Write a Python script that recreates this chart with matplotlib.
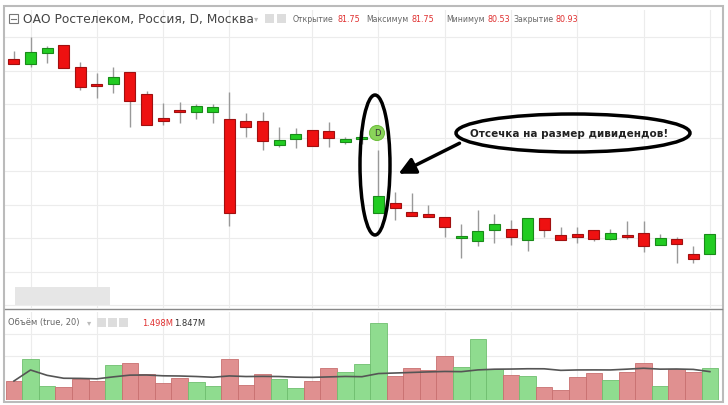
import matplotlib
matplotlib.use("Agg")
import matplotlib.pyplot as plt
import numpy as np
import pandas as pd
from matplotlib.patches import Ellipse, Rectangle, FancyArrowPatch, Circle

# OHLC (arbitrary price units)
opens  = [24.1,23.6,24.7,25.5,23.3,21.6,21.6,22.8,20.6,18.2,19.0,18.8,18.8,18.1,17.9,17.9,15.5,16.1,17.0,16.9,15.8,16.1,8.7,9.7,8.8,8.6,8.3,6.2,5.9,7.0,7.1,6.0,8.2,6.5,6.6,7.0,6.1,6.5,6.7,5.5,6.1,4.6,4.6]
highs  = [24.9,26.3,25.4,25.5,23.8,22.7,23.3,22.8,20.9,19.7,19.8,19.6,19.6,20.8,18.7,18.8,17.3,17.2,17.0,17.8,16.3,16.7,15.0,10.8,10.7,9.5,8.3,7.6,9.0,8.6,8.0,8.2,8.2,7.3,7.3,7.0,7.1,7.9,7.9,6.6,6.3,5.4,6.6]
lows   = [23.6,23.3,23.7,23.2,21.0,20.2,20.7,17.3,17.5,17.5,17.7,18.1,17.7,7.4,16.3,15.0,15.3,15.2,15.4,15.3,15.6,15.6,8.7,8.0,8.4,8.3,6.3,4.2,5.4,5.7,5.5,4.9,6.3,6.0,5.7,5.9,6.0,6.1,4.8,5.5,3.7,3.7,4.6]
closes = [23.6,24.8,25.2,23.2,21.3,21.4,22.3,19.9,17.5,17.9,18.8,19.4,19.3,8.7,17.3,15.9,16.0,16.6,15.4,16.2,16.1,16.2,10.4,9.2,8.4,8.3,7.3,6.4,6.9,7.6,6.3,8.2,7.0,6.0,6.3,6.1,6.7,6.3,5.4,6.2,5.6,4.1,6.6]
volumes = [19,41,14,13,21,19,35,37,26,17,22,18,14,41,15,26,21,12,19,32,28,36,77,24,32,30,44,33,61,31,25,24,13,10,23,27,20,28,37,14,31,28,32]
ma_period = 20
header_labels = ["Открытие", "Максимум", "Минимум", "Закрытие"]
header_values = ["81.75", "81.75", "80.53", "80.93"]

n = len(opens)
idx = np.arange(n)
up = np.array(closes) >= np.array(opens)

W, H = 728, 405
fig = plt.figure(figsize=(W/100, H/100), dpi=100)
fig.patch.set_facecolor("white")

def px_axes(x0, y0, x1, y1):
    return fig.add_axes([x0/W, 1-y1/H, (x1-x0)/W, (y1-y0)/H])

xl = (-0.54, 42.73)
grid_idx = [1,5,9,13,18,22,26,30,34,38,42]

# main
ax = px_axes(5, 10, 722, 308)
ax.set_xlim(*xl); ax.set_ylim(-0.8, 29)
for g in grid_idx:
    ax.axvline(g, color="#ececec", lw=0.8, zorder=0)
for y in np.arange(26.3, -1, -3.35):
    ax.axhline(y, color="#ececec", lw=0.8, zorder=0)
for i in idx:
    col = "#22cc22" if up[i] else "#ee1111"
    ec = "#1a8a1a" if up[i] else "#a01010"
    ax.vlines(i, lows[i], highs[i], color="#999999", lw=1, zorder=1)
    lo, hi = sorted([opens[i], closes[i]])
    ax.add_patch(Rectangle((i-0.33, lo), 0.66, max(hi-lo, 0.2), facecolor=col, edgecolor=ec, lw=0.8, zorder=2))
ax.set_xticks([]); ax.set_yticks([])
for s in ax.spines.values(): s.set_visible(False)

# volume
av = px_axes(5, 312, 722, 400)
av.set_xlim(*xl); av.set_ylim(0, 88)
for g in grid_idx:
    av.axvline(g, color="#ececec", lw=0.8, zorder=0)
for y in [44, 66]:
    av.axhline(y, color="#ececec", lw=0.8, zorder=0)
av.bar(idx, volumes, width=1.0, color=["#8fdc8f" if u else "#e09090" for u in up],
       edgecolor=["#6fbf6f" if u else "#c87070" for u in up], lw=0.6, zorder=1)
ma = pd.Series(volumes).rolling(ma_period, min_periods=1).mean()
av.plot(idx, ma, color="#555555", lw=1.2, zorder=3)
av.set_xticks([]); av.set_yticks([])
for s in av.spines.values(): s.set_visible(False)

# overlay in pixels
ov = fig.add_axes([0, 0, 1, 1], facecolor="none")
ov.set_xlim(0, W); ov.set_ylim(H, 0); ov.axis("off")
ov.add_patch(Rectangle((4, 6), 719, 396, fill=False, ec="#bbbbbb", lw=1.5))
ov.plot([5, 722], [309, 309], color="#888888", lw=1)
ov.add_patch(Rectangle((15, 287), 95, 18, fc="#e6e6e6", ec="none"))
ov.add_patch(Rectangle((9, 14), 9, 9, fill=False, ec="#777777", lw=0.8))
ov.plot([11, 16], [18.5, 18.5], color="#777777", lw=0.8)
ov.text(23, 19, "ОАО Ростелеком, Россия, D, Москва", fontsize=8.8, color="#444444", va="center")
ov.text(254, 19, "▾", fontsize=6, color="#bbbbbb", va="center")
ov.add_patch(Rectangle((265, 14), 9, 9, fc="#dddddd", ec="none"))
ov.add_patch(Rectangle((277, 14), 9, 9, fc="#dddddd", ec="none"))
lab_x = [293, 366, 446, 513]
val_x = [337, 411, 487, 556]
for lab, val, lx, vx in zip(header_labels, header_values, lab_x, val_x):
    ov.text(lx, 19, lab, fontsize=5.6, color="#666666", va="center")
    ov.text(vx, 19, val, fontsize=5.8, color="#e03030", va="center")
ov.text(8, 323, "Объём (true, 20)", fontsize=6, color="#666666", va="center")
ov.text(87, 323, "▾", fontsize=6, color="#bbbbbb", va="center")
for xx in [97, 108, 119]:
    ov.add_patch(Rectangle((xx, 318), 9, 9, fc="#dddddd", ec="none"))
ov.text(142, 323, "1.498M", fontsize=6, color="#e03030", va="center")
ov.text(174, 323, "1.847M", fontsize=6, color="#333333", va="center")

# annotations
ov.add_patch(Ellipse((375, 165), 30, 140, fill=False, ec="black", lw=2.5))
ov.add_patch(Circle((377, 133), 7.5, fc="#8ad45a", ec="#6fbf3f", lw=0.8))
ov.text(377, 133, "D", fontsize=6, ha="center", va="center", color="#333333")
ov.add_patch(Ellipse((573, 133), 234, 38, fill=False, ec="black", lw=2.5))
ov.text(569, 134, "Отсечка на размер дивидендов!", fontsize=7.5, fontweight="bold", ha="center", va="center", color="#222222")
ov.add_patch(FancyArrowPatch((462, 142), (396, 175), arrowstyle="-|>,head_length=10,head_width=5", color="black", lw=2.5, mutation_scale=1))

fig.savefig("out.png", dpi=100)
